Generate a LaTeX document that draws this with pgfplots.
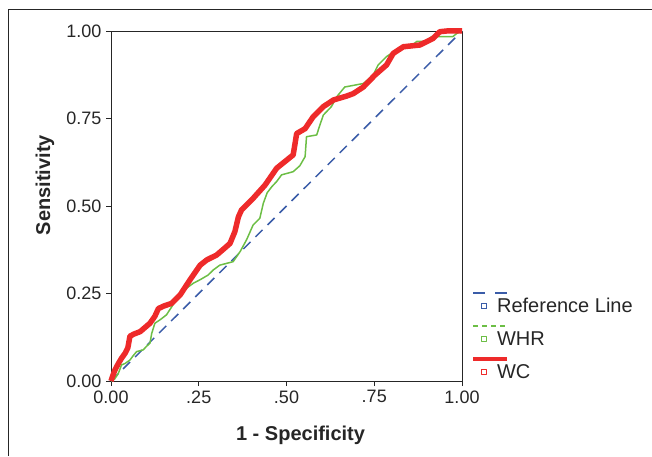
\documentclass[border=0pt]{standalone}
\usepackage{pgfplots}
\pgfplotsset{compat=1.18}
\usepackage{fontspec}
\setmainfont{Liberation Sans}
\definecolor{refblue}{HTML}{3A5CA8}
\definecolor{whrgreen}{HTML}{6CBE45}
\definecolor{wcred}{HTML}{EE2A2A}
\begin{document}
\begin{tikzpicture}[x=1pt,y=1pt]
\useasboundingbox (0,0) rectangle (652,456);
\draw[line width=0.8pt, black!85] (8.5,0) -- (8.5,447) -- (652,447);
\begin{axis}[
  at={(111pt,75pt)}, anchor=south west,
  scale only axis, width=351pt, height=350pt,
  xmin=0, xmax=1, ymin=0, ymax=1,
  axis line style={black!85, line width=0.8pt},
  tick align=outside, major tick length=5pt,
  xtick pos=left, ytick pos=left,
  tick style={black!85, line width=0.6pt},
  xtick={0,0.25,0.5,0.75,1}, xticklabels={0.00,.25,.50,.75,1.00},
  ytick={0,0.25,0.5,0.75,1}, yticklabels={0.00,0.25,0.50,0.75,1.00},
  /pgf/number format/assume math mode=true,
  ticklabel style={font=\fontsize{18pt}{20pt}\selectfont, text=black!85},
  xticklabel style={yshift=-1pt},
  yticklabel style={xshift=-1pt},
  xlabel={\textbf{1 - Specificity}},
  ylabel={\textbf{Sensitivity}},
  label style={font=\fontsize{20pt}{22pt}\selectfont, text=black!85},
  xlabel style={at={(axis description cs:0.54,-0.154)}, anchor=center},
  ylabel style={at={(axis description cs:-0.188,0.56)}, anchor=center, rotate=0},
  legend style={at={(axis description cs:1.051,0.244)}, anchor=north west,
    draw=none, fill=none, inner sep=0pt,
    font=\fontsize{20pt}{22pt}\selectfont, text=black!85,
    row sep=13.5pt, cells={anchor=west}},
  legend cell align=left,
  clip=false,
]
\addplot[refblue, line width=1.5pt, dash pattern=on 10pt off 7pt,
  legend image code/.code={
    \draw[refblue, solid, line width=1.5pt, dash pattern=on 12pt off 10pt, overlay] (-11pt,13pt) -- (23pt,13pt);
    \path[draw=none, fill=none] (-4pt,-3pt) rectangle (11pt,3pt);
    \draw[refblue, solid, line width=0.9pt, fill=white] (-2.2pt,-2.2pt) rectangle (2.2pt,2.2pt);
  }] coordinates {(0,0) (1,1)};
\addlegendentry{Reference Line}
\addplot[whrgreen, line width=1.5pt, line join=round,
  legend image code/.code={
    \draw[whrgreen, solid, line width=1.5pt, dash pattern=on 5pt off 4pt, overlay] (-11pt,13pt) -- (23pt,13pt);
    \path[draw=none, fill=none] (-4pt,-3pt) rectangle (11pt,3pt);
    \draw[whrgreen, solid, line width=0.9pt, fill=white] (-2.2pt,-2.2pt) rectangle (2.2pt,2.2pt);
  }] coordinates {
(0,0) (0.010,0.005) (0.021,0.022) (0.030,0.046) (0.040,0.05) (0.054,0.06)
(0.063,0.072) (0.073,0.084) (0.092,0.089) (0.100,0.098) (0.111,0.108)
(0.116,0.136) (0.125,0.165) (0.140,0.175) (0.158,0.189) (0.173,0.212)
(0.185,0.232) (0.197,0.25) (0.215,0.265) (0.234,0.279) (0.255,0.29)
(0.277,0.303) (0.291,0.317) (0.31,0.331) (0.348,0.341) (0.368,0.37)
(0.386,0.403) (0.405,0.446) (0.424,0.465) (0.434,0.508) (0.445,0.538)
(0.458,0.555) (0.472,0.570) (0.486,0.589) (0.519,0.598) (0.538,0.615)
(0.553,0.641) (0.557,0.698) (0.586,0.703) (0.595,0.731) (0.605,0.76)
(0.628,0.784) (0.643,0.812) (0.666,0.84) (0.719,0.85) (0.747,0.874)
(0.761,0.903) (0.785,0.927) (0.814,0.946) (0.852,0.955) (0.871,0.97)
(0.9,0.97) (0.913,0.984) (0.974,0.984) (0.985,0.993) (1,1)};
\addlegendentry{WHR}
\addplot[wcred, line width=5.5pt, line join=round,
  legend image code/.code={
    \draw[wcred, solid, line width=4pt, overlay] (-11pt,13pt) -- (23pt,13pt);
    \path[draw=none, fill=none] (-4pt,-3pt) rectangle (11pt,3pt);
    \draw[wcred, solid, line width=0.9pt, fill=white] (-2.2pt,-2.2pt) rectangle (2.2pt,2.2pt);
  }] coordinates {
(0,0) (0.005,0.015) (0.011,0.031) (0.021,0.05) (0.030,0.065) (0.04,0.079)
(0.048,0.095) (0.054,0.128) (0.065,0.134) (0.083,0.141) (0.111,0.165)
(0.125,0.185) (0.135,0.207) (0.150,0.214) (0.173,0.222) (0.197,0.246)
(0.225,0.289) (0.254,0.331) (0.273,0.346) (0.301,0.36) (0.322,0.378)
(0.339,0.393) (0.353,0.427) (0.363,0.469) (0.372,0.489) (0.405,0.522)
(0.439,0.56) (0.472,0.608) (0.519,0.646) (0.529,0.707) (0.553,0.721)
(0.576,0.755) (0.605,0.784) (0.634,0.803) (0.671,0.814) (0.69,0.821)
(0.719,0.84) (0.752,0.874) (0.785,0.903) (0.804,0.936) (0.833,0.955)
(0.88,0.96) (0.918,0.979) (0.937,0.998) (0.956,1.0) (1,1)};
\addlegendentry{WC}
\end{axis}
\end{tikzpicture}
\end{document}
